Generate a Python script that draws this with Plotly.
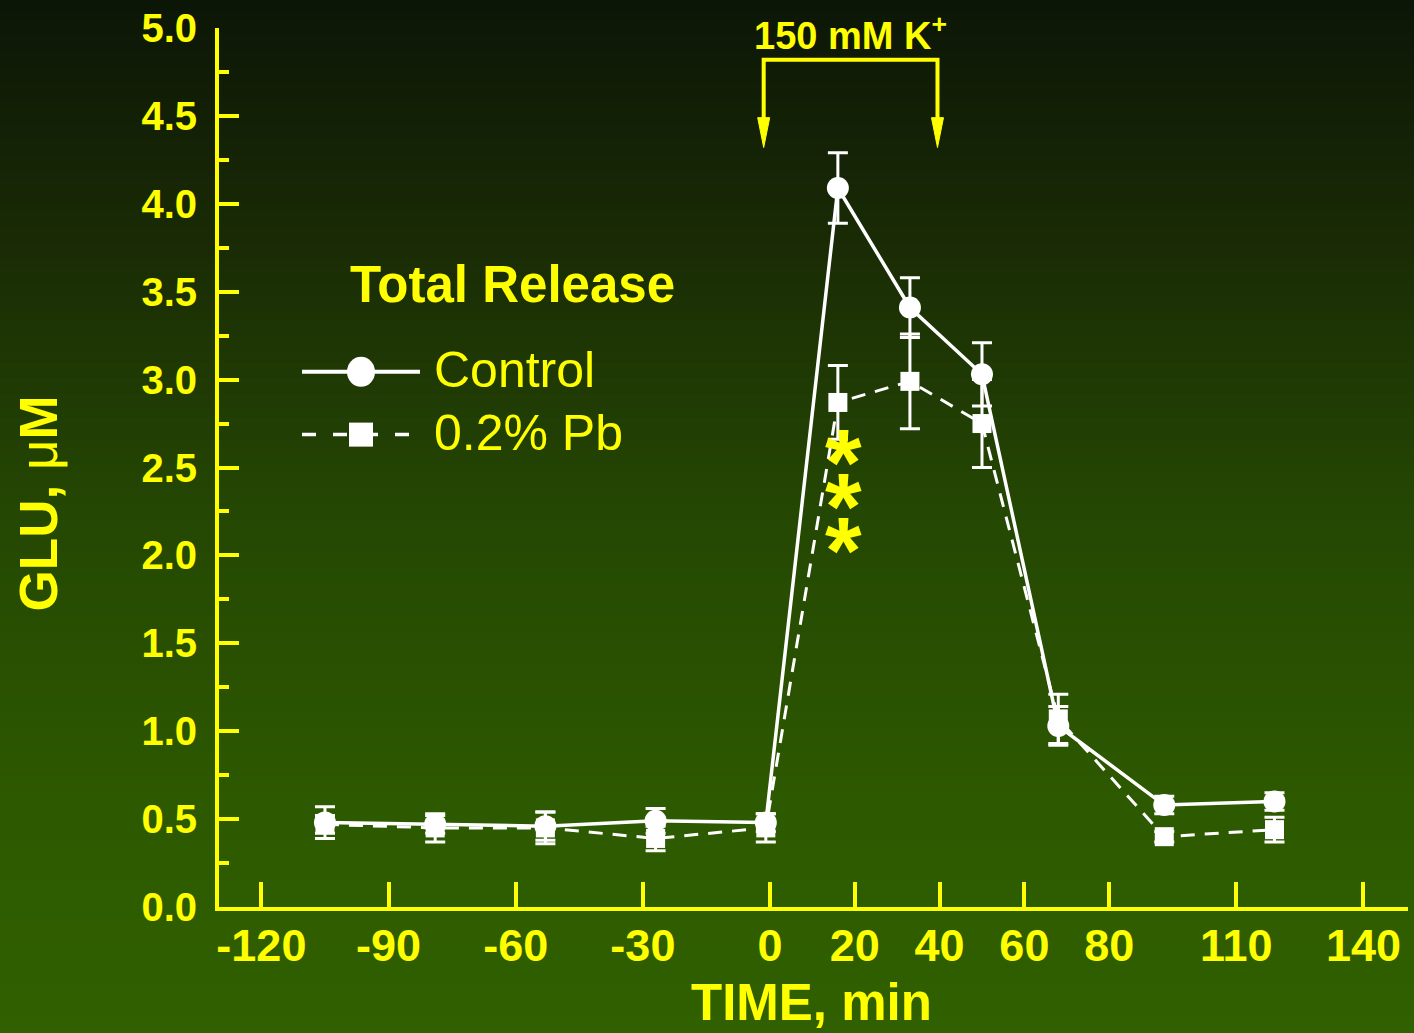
import plotly.graph_objects as go

# ---------------- data ----------------
time_min = [-105, -79, -53, -27, -1, 16, 33, 50, 68, 93, 119]
control = [0.48, 0.47, 0.46, 0.49, 0.48, 4.09, 3.41, 3.03, 1.03, 0.58, 0.60]
control_err = [0.09, 0.05, 0.08, 0.07, 0.05, 0.20, 0.17, 0.18, 0.11, 0.05, 0.05]
pb = [0.47, 0.45, 0.45, 0.39, 0.45, 2.87, 2.99, 2.75, 1.07, 0.40, 0.44]
pb_err = [0.05, 0.08, 0.09, 0.07, 0.08, 0.21, 0.27, 0.25, 0.14, 0.03, 0.07]

x_ticks = [-120, -90, -60, -30, 0, 20, 40, 60, 80, 110, 140]
x_ticktext = ["-120", "-90", "-60", "-30", "0", "20", "40", "60", "80", "110", "140"]
y_ticks = [0.0, 0.5, 1.0, 1.5, 2.0, 2.5, 3.0, 3.5, 4.0, 4.5, 5.0]
y_ticktext = ["0.0", "0.5", "1.0", "1.5", "2.0", "2.5", "3.0", "3.5", "4.0", "4.5", "5.0"]

k_start, k_end = -1.5, 39.5   # 150 mM K+ application bracket (min)

# ---------------- layout constants ----------------
W, H = 1414, 1033
L, R, T, B = 219, 6, 25, 126
X_RANGE = [-130.0, 150.5]
Y_RANGE = [0, 5]
YEL = "#ffff00"
WHITE = "#ffffff"
FONT = "Liberation Sans, Arial, sans-serif"

PW = W - L - R
PH = H - T - B


def pxx(px):
    return (px - L) / PW


def pyy(py):
    return (H - B - py) / PH


fig = go.Figure()

fig.add_trace(go.Scatter(
    x=time_min, y=control, mode="lines+markers", name="Control",
    line=dict(color=WHITE, width=3.5),
    marker=dict(symbol="circle", size=22, color=WHITE),
    error_y=dict(type="data", array=control_err, color=WHITE, thickness=3, width=10),
    showlegend=False,
))
fig.add_trace(go.Scatter(
    x=time_min, y=pb, mode="lines+markers", name="0.2% Pb",
    line=dict(color=WHITE, width=3, dash="14px,10px"),
    marker=dict(symbol="square", size=19, color=WHITE),
    error_y=dict(type="data", array=pb_err, color=WHITE, thickness=3, width=10),
    showlegend=False,
))

# ---------------- background gradient ----------------
stops = [(0, (12, 22, 7)), (250, (26, 44, 5)), (500, (36, 70, 3)), (800, (45, 89, 0)), (1033, (48, 96, 0))]


def grad(py):
    for (a, ca), (b, cb) in zip(stops[:-1], stops[1:]):
        if a <= py <= b:
            f = (py - a) / (b - a)
            return tuple(round(ca[i] + (cb[i] - ca[i]) * f) for i in range(3))
    return stops[-1][1]


shapes = []
band = 8
for y0 in range(0, H, band):
    c = grad(y0 + band / 2)
    shapes.append(dict(type="rect", xref="paper", yref="paper", layer="below",
                       x0=pxx(-5), x1=pxx(W + 5), y0=pyy(min(y0 + band + 1, H + 2)), y1=pyy(y0 - 3 if y0 == 0 else y0 - 1),
                       fillcolor="rgb(%d,%d,%d)" % c, line=dict(width=0)))

# ---------------- K+ bracket ----------------
y_top = 4.82
y_base = 4.47
y_tip = 4.32
shapes.append(dict(type="path", xref="x", yref="y",
                   path=f"M {k_start},{y_base} L {k_start},{y_top} L {k_end},{y_top} L {k_end},{y_base}",
                   line=dict(color=YEL, width=4)))
half = 6 * (X_RANGE[1] - X_RANGE[0]) / PW
for xk in (k_start, k_end):
    shapes.append(dict(type="path", xref="x", yref="y",
                       path=f"M {xk - half},{y_base + 0.02} L {xk + half},{y_base + 0.02} L {xk},{y_tip} Z",
                       fillcolor=YEL, line=dict(color=YEL, width=1)))

# ---------------- custom legend glyphs ----------------
shapes.append(dict(type="line", xref="paper", yref="paper",
                   x0=pxx(302), x1=pxx(420), y0=pyy(370), y1=pyy(370),
                   line=dict(color=WHITE, width=4)))
shapes.append(dict(type="circle", xref="paper", yref="paper",
                   xsizemode="pixel", ysizemode="pixel",
                   xanchor=pxx(361), yanchor=pyy(370), x0=-14, x1=14, y0=-15, y1=15,
                   fillcolor=WHITE, line=dict(width=0)))
shapes.append(dict(type="line", xref="paper", yref="paper",
                   x0=pxx(302), x1=pxx(410), y0=pyy(433), y1=pyy(433),
                   line=dict(color=WHITE, width=3.5, dash="14px,17px")))
shapes.append(dict(type="rect", xref="paper", yref="paper",
                   xsizemode="pixel", ysizemode="pixel",
                   xanchor=pxx(361), yanchor=pyy(433), x0=-12, x1=12, y0=-12, y1=12,
                   fillcolor=WHITE, line=dict(width=0)))

annotations = [
    dict(text="<b>150 mM K<sup>+</sup></b>", x=(k_start + k_end) / 2, y=pyy(30), xref="x", yref="paper",
         showarrow=False, font=dict(family=FONT, size=38, color=YEL), xanchor="center", yanchor="middle"),
    dict(text="<b>Total Release</b>", x=pxx(348), y=pyy(282), xref="paper", yref="paper",
         showarrow=False, font=dict(family=FONT, size=51, color=YEL), xanchor="left", yanchor="middle"),
    dict(text="Control", x=pxx(432), y=pyy(368), xref="paper", yref="paper",
         showarrow=False, font=dict(family=FONT, size=50, color=YEL), xanchor="left", yanchor="middle"),
    dict(text="0.2% Pb", x=pxx(432), y=pyy(431), xref="paper", yref="paper",
         showarrow=False, font=dict(family=FONT, size=50, color=YEL), xanchor="left", yanchor="middle"),
    dict(text="<b>TIME, min</b>", x=pxx(811), y=pyy(1003), xref="paper", yref="paper",
         showarrow=False, font=dict(family=FONT, size=51, color=YEL), xanchor="center", yanchor="middle"),
    dict(text="<b>GLU, </b>μ<b>M</b>", x=pxx(38), y=pyy(502), xref="paper", yref="paper", textangle=-90,
         showarrow=False, font=dict(family=FONT, size=53, color=YEL), xanchor="center", yanchor="middle"),
]
for sy in (449, 493, 537):
    annotations.append(dict(text="<b>*</b>", x=pxx(843), y=pyy(sy + 12), xref="paper", yref="paper",
                            showarrow=False, font=dict(family=FONT, size=94, color=YEL),
                            xanchor="center", yanchor="middle"))

fig.update_layout(
    width=W, height=H,
    margin=dict(l=L, r=R, t=T, b=B, pad=0),
    paper_bgcolor="rgb(12,22,7)",
    plot_bgcolor="rgba(0,0,0,0)",
    shapes=shapes,
    annotations=annotations,
    xaxis=dict(range=X_RANGE, showgrid=False, zeroline=False,
               showline=True, linecolor=YEL, linewidth=4,
               tickmode="array", tickvals=x_ticks, ticktext=x_ticktext,
               ticks="inside", ticklen=25, tickwidth=4, tickcolor=YEL,
               tickfont=dict(family=FONT, size=45, color=YEL, weight="bold"),
               ticklabelstandoff=-4),
    yaxis=dict(range=Y_RANGE, showgrid=False, zeroline=False,
               showline=True, linecolor=YEL, linewidth=4,
               tickmode="array", tickvals=y_ticks, ticktext=y_ticktext,
               ticks="inside", ticklen=20, tickwidth=4, tickcolor=YEL,
               minor=dict(ticks="inside", ticklen=10, tickwidth=4, tickcolor=YEL, dtick=0.25, showgrid=False),
               tickfont=dict(family=FONT, size=40, color=YEL, weight="bold"),
               ticklabelstandoff=10),
)

fig.write_html("out.html",
               config={"displayModeBar": False},
               post_script="document.body.style.margin='0px';document.body.style.padding='0px';"
                           "document.body.style.background='rgb(12,22,7)';")
